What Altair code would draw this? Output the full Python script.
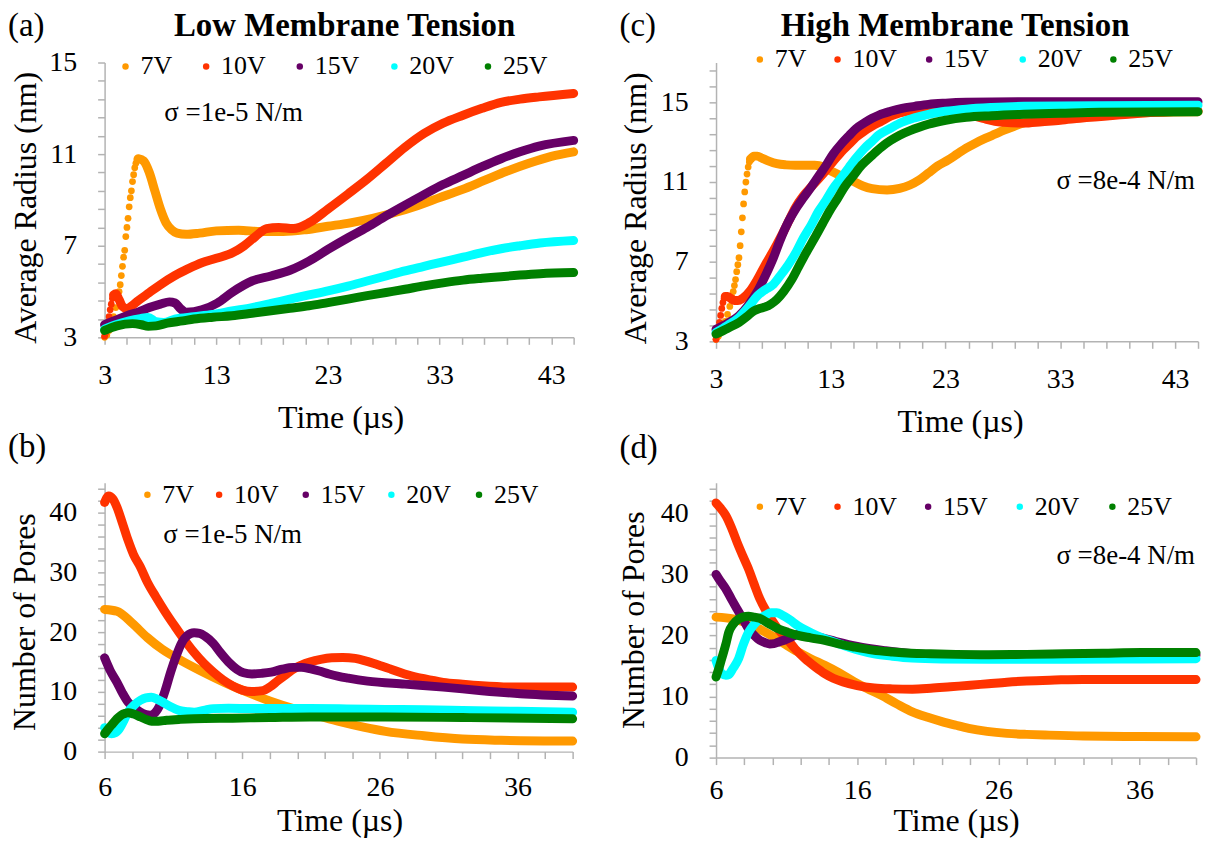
import altair as alt
import pandas as pd

SERIF = "Liberation Serif"
SERIES = ["7V", "10V", "15V", "20V", "25V"]
COLORS = ["#FF9900", "#FF3300", "#660066", "#00FFFF", "#008000"]

# ---------------- Panel (a): low tension, average radius ----------------
A_DOT_T_7V = [3.0, 3.2, 3.4, 3.6, 3.8, 4.0, 4.2, 4.3, 4.4, 4.5, 4.6, 4.7, 4.8, 4.9, 5.0, 5.1, 5.2, 5.3, 5.4, 5.5, 5.6, 5.7, 5.8, 5.9]
A_DOT_R_7V = [3.0, 3.1, 3.3, 3.6, 3.9, 4.3, 4.7, 5.0, 5.3, 5.7, 6.1, 6.5, 6.8, 7.4, 7.8, 8.2, 8.7, 9.1, 9.4, 9.8, 10.1, 10.4, 10.6, 10.75]
A_DOT_T_10V = [3.0, 3.1, 3.2, 3.3, 3.4, 3.5, 3.6, 3.7]
A_DOT_R_10V = [3.05, 3.2, 3.4, 3.65, 3.9, 4.2, 4.45, 4.7]
A_T_7V = [6.0, 6.5, 7.0, 7.5, 8.0, 8.5, 9.0, 9.5, 10.3, 11.5, 13.0, 15.0, 17.0, 19.0, 21.0, 23.0, 25.0, 27.0, 29.0, 31.0, 33.0, 35.0, 37.0, 39.0, 41.0, 43.0, 45.0]
A_R_7V = [10.8, 10.7, 10.2, 9.4, 8.6, 8.0, 7.7, 7.55, 7.5, 7.55, 7.65, 7.68, 7.62, 7.62, 7.7, 7.85, 8.0, 8.2, 8.45, 8.75, 9.1, 9.45, 9.85, 10.25, 10.6, 10.9, 11.1]
A_T_10V = [3.8, 4.0, 4.3, 4.6, 5.0, 5.5, 6.0, 7.0, 8.0, 9.3, 10.5, 11.7, 13.0, 14.5, 15.5, 16.5, 17.5, 18.6, 19.9, 21.3, 23.0, 24.8, 26.5, 28.2, 29.9, 31.6, 33.3, 35.1, 36.8, 38.5, 40.2, 41.9, 45.0]
A_R_10V = [4.85, 4.9, 4.65, 4.35, 4.25, 4.4, 4.6, 4.95, 5.3, 5.7, 6.0, 6.26, 6.45, 6.7, 7.0, 7.4, 7.75, 7.8, 7.75, 8.0, 8.6, 9.26, 9.9, 10.6, 11.3, 11.9, 12.35, 12.7, 13.0, 13.26, 13.4, 13.5, 13.65]
A_T_15V = [3.0, 4.0, 5.0, 6.0, 7.0, 8.0, 8.8, 9.3, 9.8, 10.3, 11.0, 11.7, 13.1, 14.4, 16.2, 17.9, 19.6, 21.3, 23.0, 24.8, 26.5, 28.2, 29.9, 31.6, 33.3, 35.1, 36.8, 38.5, 40.2, 41.9, 45.0]
A_R_15V = [3.55, 3.75, 3.95, 4.1, 4.3, 4.45, 4.55, 4.5, 4.25, 4.1, 4.12, 4.2, 4.5, 4.96, 5.46, 5.68, 5.93, 6.33, 6.84, 7.35, 7.8, 8.3, 8.77, 9.23, 9.67, 10.07, 10.45, 10.8, 11.1, 11.35, 11.6]
A_T_20V = [3.0, 4.0, 5.2, 6.2, 6.9, 7.6, 8.3, 9.3, 11.0, 12.7, 14.4, 16.2, 17.9, 19.6, 21.3, 23.0, 24.8, 26.5, 28.2, 29.9, 31.6, 33.3, 35.1, 36.8, 38.5, 40.2, 42.0, 45.0]
A_R_20V = [3.36, 3.55, 3.72, 3.82, 3.87, 3.68, 3.65, 3.8, 3.9, 4.0, 4.15, 4.3, 4.48, 4.67, 4.85, 5.03, 5.24, 5.46, 5.68, 5.9, 6.1, 6.3, 6.5, 6.7, 6.87, 7.0, 7.12, 7.23]
A_T_25V = [3.0, 4.1, 5.5, 6.3, 6.9, 7.6, 8.6, 10.0, 11.0, 12.7, 14.4, 16.2, 17.9, 19.6, 21.3, 23.0, 24.8, 26.5, 28.2, 29.9, 31.6, 33.3, 35.1, 36.8, 38.5, 40.2, 42.0, 45.0]
A_R_25V = [3.3, 3.5, 3.6, 3.55, 3.48, 3.5, 3.62, 3.72, 3.8, 3.88, 3.94, 4.05, 4.16, 4.27, 4.38, 4.52, 4.67, 4.82, 4.96, 5.1, 5.25, 5.38, 5.5, 5.58, 5.65, 5.72, 5.78, 5.83]

# ---------------- Panel (c): high tension, average radius ----------------
C_DOT_T_7V = [3.0, 3.2, 3.4, 3.6, 3.8, 4.0, 4.2, 4.4, 4.5, 4.6, 4.7, 4.8, 4.9, 5.0, 5.1, 5.2, 5.3, 5.4, 5.5, 5.6, 5.7, 5.8, 5.9]
C_DOT_R_7V = [3.1, 3.25, 3.45, 3.7, 4.0, 4.35, 4.75, 5.2, 5.5, 5.8, 6.1, 6.5, 6.85, 7.2, 7.8, 8.5, 9.2, 9.9, 10.5, 11.0, 11.4, 11.75, 12.0]
C_DOT_T_10V = [3.0, 3.1, 3.2, 3.3, 3.4, 3.5, 3.6, 3.7]
C_DOT_R_10V = [3.1, 3.3, 3.6, 3.95, 4.3, 4.65, 4.95, 5.15]
C_T_7V = [6.0, 6.3, 6.6, 7.0, 7.6, 8.3, 9.1, 9.9, 10.8, 11.6, 12.4, 13.2, 14.1, 14.9, 15.8, 16.6, 17.9, 19.0, 19.9, 20.7, 21.5, 22.3, 23.2, 24.0, 24.8, 25.6, 26.5, 27.3, 28.1, 29.0, 29.8, 31.4, 33.0, 34.7, 38.0, 41.3, 45.0]
C_R_7V = [12.15, 12.3, 12.3, 12.2, 12.05, 11.92, 11.86, 11.84, 11.84, 11.84, 11.75, 11.5, 11.25, 11.05, 10.8, 10.67, 10.6, 10.68, 10.85, 11.1, 11.45, 11.8, 12.1, 12.4, 12.7, 12.95, 13.2, 13.4, 13.6, 13.8, 13.96, 14.16, 14.26, 14.3, 14.4, 14.5, 14.53]
C_T_10V = [3.8, 4.0, 4.3, 4.6, 4.9, 5.3, 6.0, 6.6, 7.3, 8.0, 8.6, 9.3, 9.9, 10.6, 11.3, 12.0, 12.6, 13.3, 13.9, 14.6, 15.2, 15.9, 16.6, 17.4, 18.2, 19.0, 19.9, 21.5, 23.2, 24.8, 25.6, 26.5, 27.3, 28.1, 29.8, 31.4, 33.0, 34.7, 38.0, 41.3, 45.0]
C_R_10V = [5.25, 5.25, 5.15, 5.05, 5.05, 5.15, 5.55, 6.1, 6.85, 7.55, 8.2, 9.0, 9.7, 10.3, 10.76, 11.2, 11.6, 12.1, 12.5, 12.9, 13.25, 13.55, 13.8, 14.05, 14.3, 14.47, 14.58, 14.7, 14.66, 14.5, 14.3, 14.16, 14.05, 14.0, 13.96, 14.03, 14.1, 14.2, 14.36, 14.5, 14.58]
C_T_15V = [3.0, 4.0, 5.0, 5.8, 6.6, 7.3, 8.0, 8.6, 9.3, 10.0, 10.6, 11.3, 11.9, 12.6, 13.2, 13.9, 14.6, 15.2, 15.9, 16.6, 17.2, 18.2, 19.2, 20.3, 21.5, 23.0, 24.8, 29.8, 45.0]
C_R_15V = [3.6, 3.9, 4.28, 4.8, 5.5, 6.3, 7.2, 8.1, 9.0, 9.7, 10.2, 10.75, 11.26, 11.85, 12.4, 12.9, 13.33, 13.68, 13.96, 14.2, 14.36, 14.55, 14.7, 14.8, 14.9, 14.96, 15.0, 15.03, 15.03]
C_T_20V = [3.0, 4.0, 5.0, 5.8, 6.6, 7.3, 8.0, 8.6, 9.3, 10.0, 10.6, 11.3, 11.9, 12.6, 13.2, 13.9, 14.6, 15.2, 15.9, 16.6, 17.2, 18.2, 19.2, 20.3, 21.5, 23.0, 24.8, 27.0, 29.8, 36.4, 45.0]
C_R_20V = [3.45, 3.8, 4.2, 4.7, 5.28, 5.6, 5.86, 6.3, 6.85, 7.5, 8.18, 8.85, 9.5, 10.1, 10.67, 11.2, 11.75, 12.2, 12.67, 13.05, 13.37, 13.7, 14.0, 14.22, 14.4, 14.55, 14.66, 14.74, 14.8, 14.83, 14.86]
C_T_25V = [3.0, 4.0, 5.0, 5.7, 6.3, 6.8, 7.3, 7.8, 8.3, 8.9, 9.6, 10.2, 10.9, 11.6, 12.3, 12.9, 13.6, 14.2, 14.9, 15.7, 16.6, 17.4, 18.2, 19.0, 19.9, 20.7, 21.5, 23.0, 24.8, 27.0, 29.8, 33.0, 36.4, 45.0]
C_R_25V = [3.37, 3.65, 3.95, 4.25, 4.53, 4.65, 4.73, 4.88, 5.1, 5.5, 6.1, 6.75, 7.5, 8.2, 8.93, 9.55, 10.18, 10.75, 11.26, 11.85, 12.34, 12.75, 13.08, 13.35, 13.58, 13.75, 13.9, 14.1, 14.25, 14.33, 14.4, 14.45, 14.5, 14.53]

# ---------------- Panel (b): low tension, number of pores ----------------
B_T_7V = [6.0, 6.9, 8.0, 9.1, 10.2, 11.6, 13.0, 14.7, 16.4, 18.1, 19.7, 21.4, 23.1, 24.8, 26.4, 29.2, 32.0, 34.8, 40.0]
B_N_7V = [23.8, 23.5, 21.5, 19.1, 17.1, 15.2, 13.5, 11.6, 9.9, 8.4, 7.2, 6.1, 5.0, 4.1, 3.4, 2.65, 2.1, 1.9, 1.77]
B_T_10V = [6.0, 6.3, 6.6, 6.9, 7.3, 7.7, 8.1, 8.6, 9.1, 9.7, 10.4, 11.1, 11.8, 12.5, 13.2, 13.9, 14.6, 15.3, 16.0, 16.7, 17.5, 18.0, 18.6, 19.2, 19.7, 20.3, 20.9, 21.7, 22.5, 23.3, 24.2, 25.0, 25.9, 26.8, 27.8, 29.2, 30.6, 32.0, 33.4, 36.2, 40.0]
B_N_10V = [41.7, 42.8, 42.3, 40.9, 38.2, 35.4, 33.0, 30.9, 28.4, 26.0, 23.4, 21.0, 18.7, 16.6, 14.8, 13.3, 12.0, 11.0, 10.3, 10.05, 10.2, 10.8, 11.9, 12.9, 13.8, 14.5, 15.0, 15.45, 15.7, 15.75, 15.6, 15.15, 14.5, 13.8, 13.0, 12.2, 11.6, 11.3, 11.05, 10.8, 10.8]
B_T_15V = [6.0, 6.4, 6.9, 7.3, 7.7, 8.2, 8.6, 9.0, 9.3, 9.7, 10.0, 10.4, 10.8, 11.2, 11.6, 12.0, 12.5, 12.9, 13.3, 13.9, 14.4, 15.0, 15.6, 16.1, 16.7, 17.4, 18.1, 18.9, 19.7, 20.3, 20.9, 21.6, 22.3, 23.0, 23.7, 25.1, 27.8, 30.6, 33.4, 36.2, 40.0]
B_N_15V = [15.7, 13.6, 11.6, 9.8, 8.3, 7.3, 6.6, 6.2, 6.1, 6.6, 7.7, 10.2, 13.3, 16.0, 18.2, 19.4, 19.9, 19.8, 19.3, 18.1, 16.6, 15.0, 13.8, 13.2, 13.0, 13.1, 13.3, 13.8, 14.1, 14.1, 13.9, 13.5, 13.0, 12.6, 12.3, 11.8, 11.3, 10.8, 10.2, 9.7, 9.3]
B_T_20V = [6.0, 6.3, 6.5, 6.8, 7.0, 7.4, 7.7, 8.2, 8.6, 9.0, 9.4, 9.8, 10.2, 10.8, 11.4, 12.0, 12.5, 13.2, 13.9, 15.0, 16.7, 18.8, 20.9, 23.6, 26.4, 29.2, 32.0, 36.0, 40.0]
B_N_20V = [4.0, 3.2, 3.0, 3.2, 3.6, 5.2, 6.6, 7.9, 8.6, 9.0, 9.1, 8.8, 8.3, 7.5, 6.9, 6.7, 6.6, 6.9, 7.2, 7.25, 7.2, 7.2, 7.2, 7.15, 7.07, 7.0, 6.9, 6.75, 6.6]
B_T_25V = [6.0, 6.3, 6.6, 6.9, 7.2, 7.5, 7.7, 8.1, 8.6, 9.0, 9.4, 9.9, 10.5, 11.5, 12.5, 15.3, 18.0, 20.9, 26.4, 32.0, 40.0]
B_N_25V = [3.0, 3.9, 4.7, 5.5, 6.1, 6.4, 6.5, 6.3, 5.8, 5.4, 5.1, 5.1, 5.25, 5.4, 5.5, 5.6, 5.7, 5.8, 5.8, 5.7, 5.5]

# ---------------- Panel (d): high tension, number of pores ----------------
D_T_7V = [6.0, 7.2, 8.6, 9.9, 10.8, 11.8, 12.7, 13.7, 14.7, 15.8, 16.7, 17.7, 18.8, 19.9, 21.0, 22.0, 23.0, 23.9, 25.2, 26.6, 28.0, 29.3, 32.0, 36.0, 40.0]
D_N_7V = [23.0, 22.7, 21.6, 20.0, 18.7, 17.3, 16.2, 15.1, 13.9, 12.4, 11.3, 10.2, 8.8, 7.5, 6.6, 5.9, 5.3, 4.8, 4.3, 3.97, 3.8, 3.7, 3.53, 3.45, 3.4]
D_T_10V = [6.0, 6.3, 6.7, 7.1, 7.5, 7.9, 8.3, 8.7, 9.1, 9.5, 9.9, 10.4, 11.0, 11.6, 12.3, 13.0, 13.7, 14.3, 15.0, 16.0, 17.2, 18.5, 19.9, 21.2, 22.6, 24.0, 25.3, 26.6, 28.0, 30.0, 32.0, 36.0, 40.0]
D_N_10V = [41.7, 40.9, 39.6, 37.6, 35.2, 33.0, 30.9, 28.4, 26.0, 24.2, 22.7, 21.0, 19.5, 17.8, 16.2, 14.9, 13.75, 13.0, 12.4, 11.8, 11.4, 11.25, 11.2, 11.35, 11.6, 11.85, 12.1, 12.35, 12.55, 12.7, 12.8, 12.8, 12.77]
D_T_15V = [6.0, 6.3, 6.7, 7.1, 7.5, 7.9, 8.3, 8.7, 9.1, 9.5, 9.8, 10.1, 10.4, 10.9, 11.3, 11.7, 12.1, 12.6, 13.5, 14.5, 16.0, 18.0, 20.0, 22.0, 26.0, 30.0, 35.0, 40.0]
D_N_15V = [30.0, 28.9, 27.6, 25.9, 24.3, 22.7, 21.1, 20.0, 19.2, 18.8, 18.6, 18.65, 18.9, 19.3, 19.7, 20.1, 20.3, 20.1, 19.6, 19.0, 18.2, 17.5, 17.0, 16.8, 16.7, 16.7, 16.8, 16.8]
D_T_20V = [6.0, 6.2, 6.4, 6.7, 6.9, 7.2, 7.6, 7.9, 8.3, 8.7, 9.1, 9.5, 9.9, 10.3, 10.7, 11.2, 11.8, 12.4, 13.1, 14.0, 15.0, 16.1, 17.2, 18.5, 19.9, 22.0, 25.3, 30.7, 36.0, 40.0]
D_N_20V = [15.9, 14.6, 13.75, 13.5, 13.6, 14.6, 16.2, 18.3, 20.5, 21.8, 22.7, 23.3, 23.7, 23.7, 23.3, 22.6, 21.6, 20.8, 20.0, 19.2, 18.4, 17.6, 17.0, 16.6, 16.3, 16.15, 16.1, 16.1, 16.15, 16.2]
D_T_25V = [6.0, 6.2, 6.4, 6.7, 6.9, 7.2, 7.6, 7.9, 8.3, 8.7, 9.1, 9.7, 10.4, 11.1, 11.8, 12.7, 13.7, 14.7, 15.8, 17.1, 18.5, 19.8, 21.2, 23.0, 25.3, 28.0, 30.7, 33.4, 36.1, 40.0]
D_N_25V = [13.2, 14.6, 16.2, 18.6, 20.5, 21.8, 22.7, 23.0, 23.15, 23.0, 22.8, 22.0, 21.1, 20.5, 20.0, 19.6, 19.2, 18.6, 18.1, 17.6, 17.3, 17.1, 17.0, 16.9, 16.85, 16.9, 17.0, 17.1, 17.2, 17.2]

# ---------------- Axis ticks ----------------
R_X_TICKS = [3, 5, 7, 9, 11, 13, 15, 17, 19, 21, 23, 25, 27, 29, 31, 33, 35, 37, 39, 41, 43, 45]
R_X_LABELS = [3, 13, 23, 33, 43]
A_Y_TICKS = [3.0, 3.8, 4.6, 5.4, 6.2, 7.0, 7.8, 8.6, 9.4, 10.2, 11.0, 11.8, 12.6, 13.4, 14.2, 15.0]
C_Y_TICKS = A_Y_TICKS + [15.8, 16.6]
R_Y_LABELS = [3, 7, 11, 15]
N_X_TICKS = [6, 8, 10, 12, 14, 16, 18, 20, 22, 24, 26, 28, 30, 32, 34, 36, 38, 40]
N_X_LABELS = [6, 16, 26, 36]
N_Y_TICKS = [0, 2, 4, 6, 8, 10, 12, 14, 16, 18, 20, 22, 24, 26, 28, 30, 32, 34, 36, 38, 40, 42, 44]
N_Y_LABELS = [0, 10, 20, 30, 40]

AXIS_STYLE = dict(
    domainColor="#b3b3b3", domainWidth=1.5, tickColor="#b3b3b3", tickWidth=1.5,
    tickSize=7, grid=False, labelFont=SERIF, labelFontSize=28, labelColor="black",
    labelFlush=False, labelOverlap=False, titleFont=SERIF, titleFontSize=32,
    titleFontWeight="normal", titleColor="black",
)
CSCALE = alt.Scale(domain=SERIES, range=COLORS)


def lab_expr(major):
    return f"indexof({list(major)}, datum.value) >= 0 ? format(datum.value, 'd') : ''"


def frame(t, v, name):
    return pd.DataFrame({"t": t, "v": v, "series": name})


def text_layer(label, x, y, size=25, align="left", weight="normal"):
    return alt.Chart(pd.DataFrame({"label": [label]})).mark_text(
        align=align, baseline="middle", font=SERIF, fontSize=size,
        fontWeight=weight, color="black"
    ).encode(x=alt.value(x), y=alt.value(y), text="label:N")


def legend_layers(xs, y):
    out = []
    for s, x in zip(SERIES, xs):
        one = pd.DataFrame({"series": [s]})
        out.append(alt.Chart(one).mark_circle(size=42, opacity=1).encode(
            x=alt.value(x), y=alt.value(y),
            color=alt.Color("series:N", scale=CSCALE, legend=None)))
        out.append(alt.Chart(one).mark_text(
            align="left", baseline="middle", font=SERIF, fontSize=26, color="black"
        ).encode(x=alt.value(x + 15), y=alt.value(y), text="series:N"))
    return out


def panel(lines, dots, xdom, ydom, xticks, xlabels, yticks, ylabels, ytitle,
          w, h, leg_xs, leg_y, sigma, sig_x, sig_y, sig_align,
          letter, let_y, title, title_x, ytitle_x, ytitle_y, xtitle_x, xtitle_y, xlab_pad):
    x_enc = alt.X("t:Q", scale=alt.Scale(domain=xdom, nice=False, zero=False),
                  axis=alt.Axis(values=xticks, labelExpr=lab_expr(xlabels),
                                title="Time (µs)", titleX=xtitle_x, titleY=xtitle_y,
                                titleAlign="center", titleBaseline="middle",
                                labelBaseline="middle", labelPadding=xlab_pad, **AXIS_STYLE))
    y_enc = alt.Y("v:Q", scale=alt.Scale(domain=ydom, nice=False, zero=False),
                  axis=alt.Axis(values=yticks, labelExpr=lab_expr(ylabels),
                                title=ytitle, titleX=ytitle_x, titleY=ytitle_y,
                                titleAngle=270, titleAlign="center", titleBaseline="middle",
                                labelPadding=21, **AXIS_STYLE))
    color = alt.Color("series:N", scale=CSCALE, legend=None)
    layers = []
    if dots:
        pts = pd.concat([frame(t, v, s) for s, (t, v) in dots.items()], ignore_index=True)
        layers.append(alt.Chart(pts).mark_circle(size=46, opacity=1).encode(
            x=x_enc, y=y_enc, color=color))
    for s in SERIES:
        t, v = lines[s]
        layers.append(alt.Chart(frame(t, v, s)).mark_line(
            strokeWidth=9, strokeCap="round", strokeJoin="round", interpolate="monotone"
        ).encode(x=x_enc, y=y_enc, color=color))
    layers += legend_layers(leg_xs, leg_y)
    layers.append(text_layer(sigma, sig_x, sig_y, 27, sig_align))
    layers.append(text_layer(letter, -97, let_y, 33))
    if title:
        layers.append(text_layer(title, title_x, -37, 33, "center", "bold"))
    return alt.layer(*layers).properties(width=w, height=h)


pa = panel(
    {"7V": (A_T_7V, A_R_7V), "10V": (A_T_10V, A_R_10V), "15V": (A_T_15V, A_R_15V),
     "20V": (A_T_20V, A_R_20V), "25V": (A_T_25V, A_R_25V)},
    {"7V": (A_DOT_T_7V, A_DOT_R_7V), "10V": (A_DOT_T_10V, A_DOT_R_10V)},
    [3, 45], [3, 15], R_X_TICKS, R_X_LABELS, A_Y_TICKS, R_Y_LABELS, "Average Radius (nm)",
    471, 276, [21, 102, 196, 291, 385], 4, "σ =1e-5 N/m", 60, 51, "left",
    "(a)", -37, "Low Membrane Tension", 241, -79, 145.5, 237, 81, 31)

pc = panel(
    {"7V": (C_T_7V, C_R_7V), "10V": (C_T_10V, C_R_10V), "15V": (C_T_15V, C_R_15V),
     "20V": (C_T_20V, C_R_20V), "25V": (C_T_25V, C_R_25V)},
    {"7V": (C_DOT_T_7V, C_DOT_R_7V), "10V": (C_DOT_T_10V, C_DOT_R_10V)},
    [3, 45], [3, 17], R_X_TICKS, R_X_LABELS, C_Y_TICKS, R_Y_LABELS, "Average Radius (nm)",
    484, 280, [44, 122, 214, 308, 399], -3, "σ =8e-4 N/m", 481, 119, "right",
    "(c)", -37, "High Membrane Tension", 240, -81, 146, 245, 81, 31)

pb = panel(
    {"7V": (B_T_7V, B_N_7V), "10V": (B_T_10V, B_N_10V), "15V": (B_T_15V, B_N_15V),
     "20V": (B_T_20V, B_N_20V), "25V": (B_T_25V, B_N_25V)},
    {},
    [6, 40], [0, 45], N_X_TICKS, N_X_LABELS, N_Y_TICKS, N_Y_LABELS, "Number of Pores",
    470, 270, [43, 115, 202, 288, 376], 12, "σ =1e-5 N/m", 59, 52, "left",
    "(b)", -36, None, 0, -80, 139.5, 236, 69, 29)

pd_ = panel(
    {"7V": (D_T_7V, D_N_7V), "10V": (D_T_10V, D_N_10V), "15V": (D_T_15V, D_N_15V),
     "20V": (D_T_20V, D_N_20V), "25V": (D_T_25V, D_N_25V)},
    {},
    [6, 40], [0, 45], N_X_TICKS, N_X_LABELS, N_Y_TICKS, N_Y_LABELS, "Number of Pores",
    482, 276, [44, 122, 213, 305, 398], 24, "σ =8e-4 N/m", 481, 74, "right",
    "(d)", -35, None, 0, -83, 137.5, 241, 63, 26)

chart = alt.concat(
    pa, pc, pb, pd_, columns=2, spacing={"row": 142, "column": 143},
    bounds="flush", align="each"
).resolve_scale(color="independent").configure_view(
    stroke=None
).properties(padding=0, background="white")

chart.save("out.html", embed_options={"renderer": "svg", "actions": False})
